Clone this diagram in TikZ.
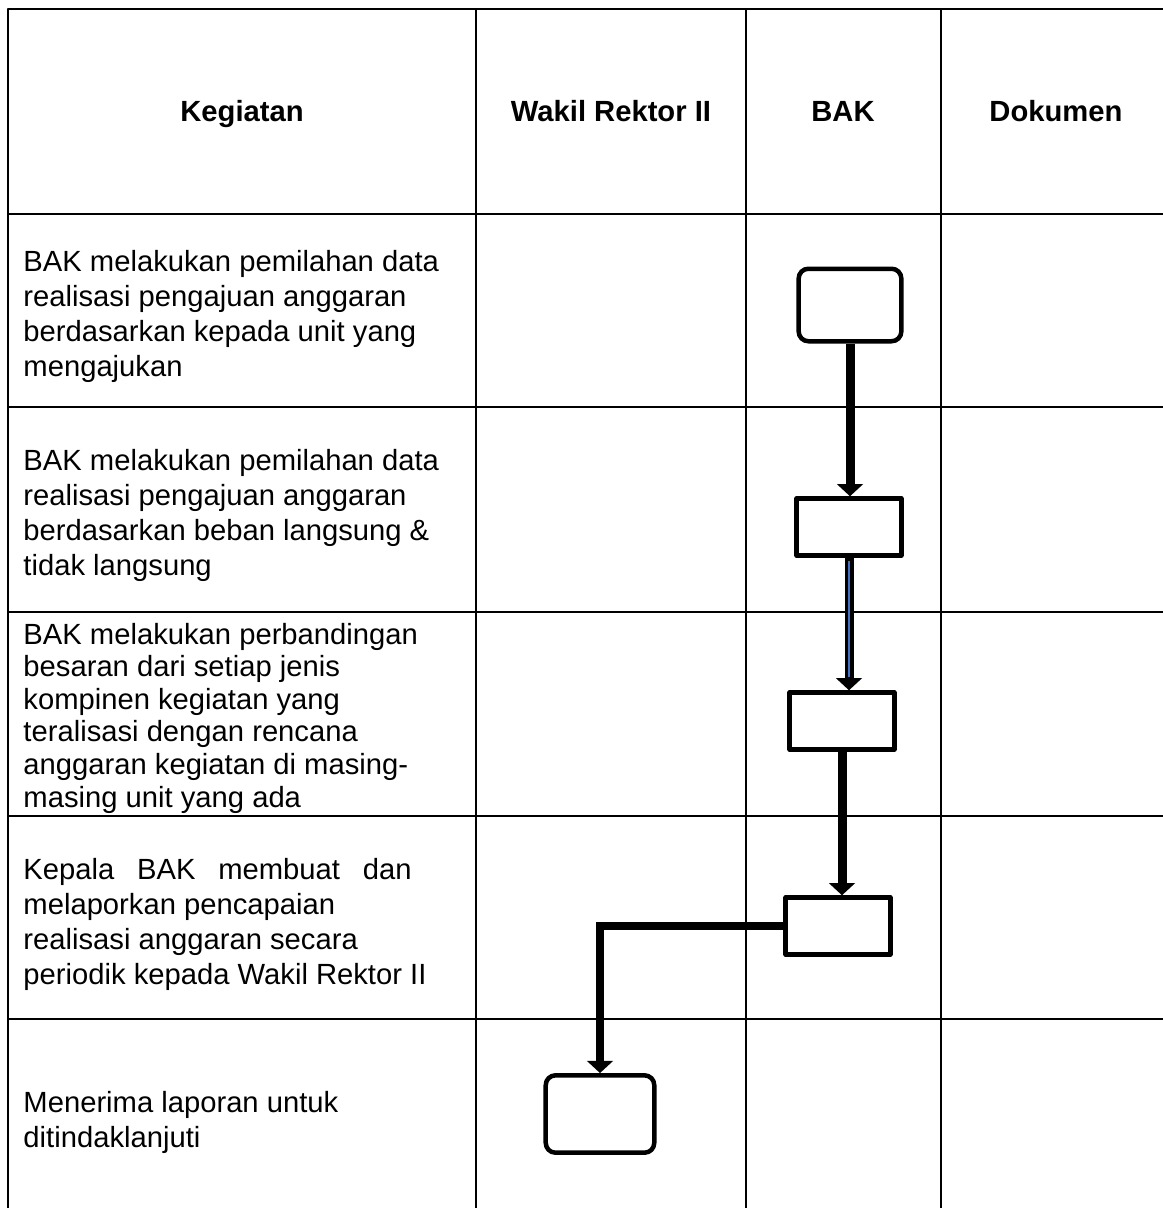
\documentclass[tikz,border=0pt]{standalone}
\usepackage{fontspec}
\setmainfont{Liberation Sans}
\usetikzlibrary{positioning, arrows.meta}
\definecolor{arrowblue}{RGB}{68,114,196}

\begin{document}
\begin{tikzpicture}[x=0.411pt, y=-0.411pt, line join=round,
  grid/.style = {line width=1.1pt},
  head/.style = {anchor=base, font=\fontsize{12}{14.4}\selectfont\bfseries},
  act/.style = {anchor=west, align=left, inner sep=0pt, font=\fontsize{12}{14.4}\selectfont},
  terminal/.style = {draw, line width=1.85pt, rounded corners=4pt, minimum width=42.2pt, minimum height=29.8pt},
  task/.style = {draw, line width=1.85pt, minimum width=43pt, minimum height=23.4pt},
  flow/.style = {line width=3.7pt, -{Triangle[width=10.5pt, length=5pt]}}]
\useasboundingbox (0,0) rectangle (1163,1208);

% table
\draw[grid] (8,1208) -- (8,9) -- (1163,9);
\draw[grid] (8,214) -- (1163,214);
\draw[grid] (8,407) -- (1163,407);
\draw[grid] (8,612) -- (1163,612);
\draw[grid] (8,816) -- (1163,816);
\draw[grid] (8,1019) -- (1163,1019);
\draw[grid] (476,9) -- (476,1208);
\draw[grid] (746,9) -- (746,1208);
\draw[grid] (941,9) -- (941,1208);

% headers
\node[head] (hkeg) at (242,121) {Kegiatan};
\node[head] (hwr) at (611,121) {Wakil Rektor II};
\node[head] (hbak) at (843,121) {BAK};
\node[head] (hdok) at (1056,121) {Dokumen};

% kegiatan
\node[act] (k1) at (23,316) {BAK melakukan pemilahan data\\realisasi pengajuan anggaran\\berdasarkan kepada unit yang\\mengajukan};
\node[act] (k2) at (23,515) {BAK melakukan pemilahan data\\realisasi pengajuan anggaran\\berdasarkan beban langsung \&\\tidak langsung};
\node[act, font=\fontsize{12}{13.4}\selectfont] (k3) at (23,718) {BAK melakukan perbandingan\\besaran dari setiap jenis\\kompinen kegiatan yang\\teralisasi dengan rencana\\anggaran kegiatan di masing-\\masing unit yang ada};
\node[act] (k4) at (23,924) {\makebox[159.5pt][s]{Kepala BAK membuat dan}\\melaporkan pencapaian\\realisasi anggaran secara\\periodik kepada Wakil Rektor II};
\node[act] (k5) at (23,1122) {Menerima laporan untuk\\ditindaklanjuti};

% flow
\node[terminal] (b1) at (850,305) {};
\node[task] (b2) at (849,527) {};
\node[task] (b3) at (842,721) {};
\node[task] (b4) at (838,926) {};
\node[terminal, minimum width=44.6pt, minimum height=31.8pt] (b5) at (600,1114) {};

\draw[flow] (b1) -- (b1.south |- b2.north);
\draw[flow] (b2.south) -- (b2.south |- b3.north);
\draw[line width=1.2pt, arrowblue] ([yshift=-1.5pt]b2.south) -- ([yshift=5.5pt]b2.south |- b3.north);
\draw[flow] (b3.south) -- (b3.south |- b4.north);
\draw[flow, line join=miter, line width=3.3pt] (b4.west) -| (b5.north);
\end{tikzpicture}
\end{document}
